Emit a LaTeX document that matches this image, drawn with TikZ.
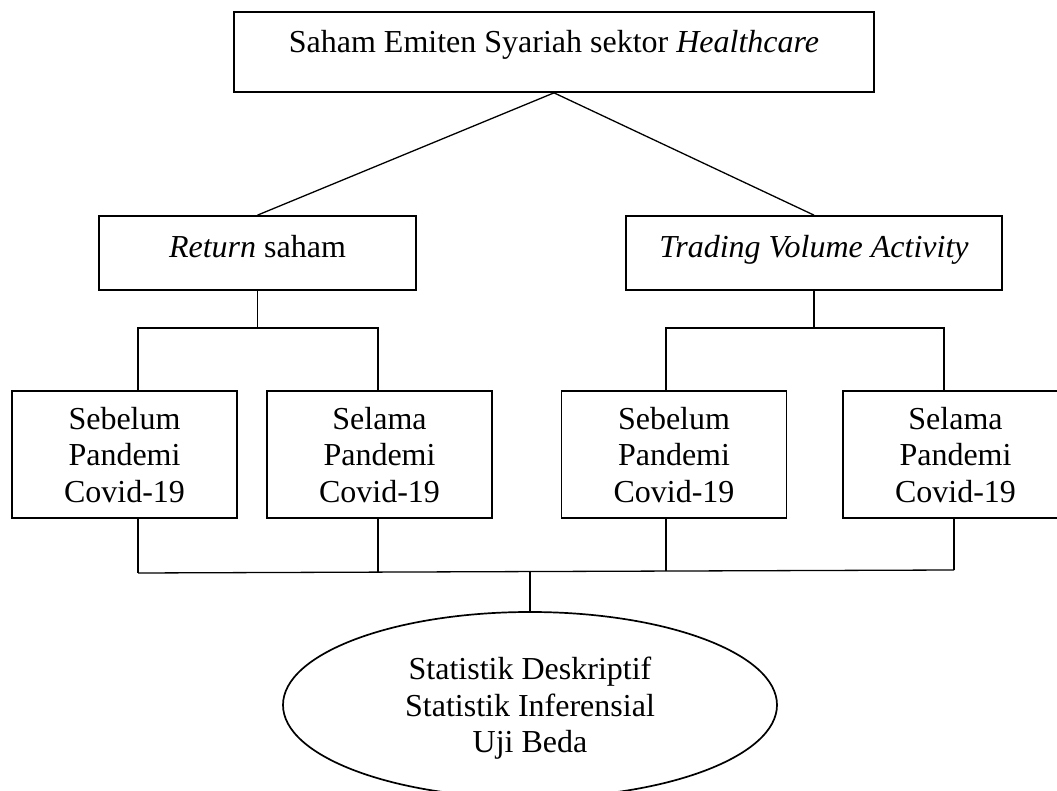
\documentclass[tikz,border=0pt]{standalone}
\usepackage{fontspec}
\setmainfont{Liberation Serif}
\usetikzlibrary{shapes.geometric}
\newlength{\px}
\setlength{\px}{0.5pt}

\begin{document}
\begin{tikzpicture}[x=\px,y=-\px,
    box/.style={draw,line width=0.85pt,inner sep=0pt,font=\fontsize{16}{18.25}\selectfont},
    headbox/.style={box,minimum height=37pt,text height=11.5pt,text depth=6.5pt},
    subbox/.style={box,minimum width=112.5pt,minimum height=63.5pt,align=center,text depth=-4pt},
    link/.style={line width=0.65pt}]
        %page frame
        \useasboundingbox (0,0) rectangle (1057,791);

        %top box
        \node[box,minimum width=320pt,minimum height=40pt,text height=11.5pt,text depth=10.5pt] (saham) at (554,52) {Saham Emiten Syariah sektor \textit{Healthcare}};

        %second level
        \node[headbox,minimum width=158.5pt] (ret) at (257.5,253) {\textit{Return} saham};
        \node[headbox,minimum width=188.25pt] (tva) at (814,253) {\textit{Trading Volume Activity}};

        %third level
        \node[subbox] (rsebelum) at (124.5,454.5) {Sebelum\\Pandemi\\Covid-19};
        \node[subbox] (rselama) at (379.5,454.5) {Selama\\Pandemi\\Covid-19};
        \node[subbox] (tsebelum) at (674,454.5) {Sebelum\\Pandemi\\Covid-19};
        \node[subbox] (tselama) at (955.5,454.5) {Selama\\Pandemi\\Covid-19};

        %analysis
        \node[box,ellipse,minimum width=247pt,minimum height=93pt,align=center,text depth=-1.5pt] (uji) at (530,705) {Statistik Deskriptif\\Statistik Inferensial\\Uji Beda};

        %links from the top box
        \draw[link] (saham.south) -- (ret.north);
        \draw[link] (saham.south) -- (tva.north);

        %branch points
        \coordinate (rl) at (138,328);
        \coordinate (rr) at (378,328);
        \coordinate (tl) at (666,328);
        \coordinate (tr) at (944,328);
        \draw[link] (ret.south) -- (ret.south |- rl);
        \draw[link] (rl |- rsebelum.north) -- (rl) -- (rr) -- (rr |- rselama.north);
        \draw[link] (tva.south) -- (tva.south |- tl);
        \draw[link] (tl |- tsebelum.north) -- (tl) -- (tr) -- (tr |- tselama.north);

        %join everything into the analysis
        \foreach \name/\xpos/\ypos in {rsebelum/138/573,rselama/378/572,tsebelum/666/571,tselama/954/570}{
          \coordinate (bot-\name) at (\xpos,\ypos);
          \draw[link] (bot-\name |- \name.south) -- (bot-\name);
        }
        \draw[link] (bot-rsebelum) -- (bot-tselama);
        \coordinate (mid) at (530,572);
        \draw[link] (mid) -- (uji.north);
      \end{tikzpicture}
\end{document}
